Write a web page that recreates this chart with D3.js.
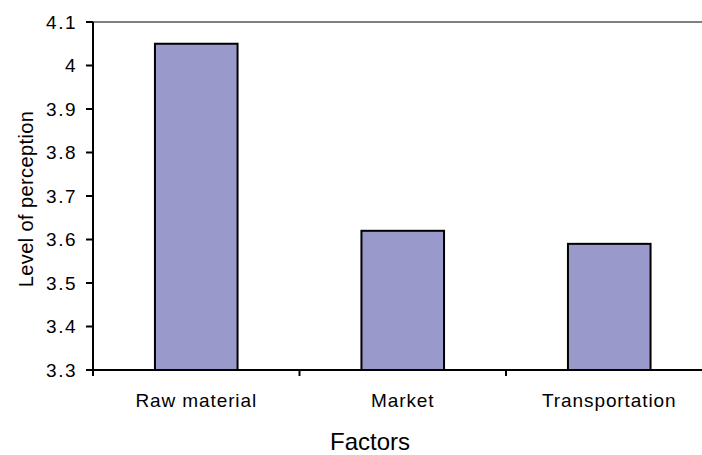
<!DOCTYPE html>
<html>
<head>
<meta charset="utf-8">
<script src="https://cdn.jsdelivr.net/npm/d3@7"></script>
<style>
  body { margin: 0; background: #fff; }
  text { font-family: "Liberation Sans", Arial, sans-serif; fill: #000; }
</style>
</head>
<body>
<div class="container"></div>
<script>
const w = 702;
const h = 455;

const categories = ["Raw material", "Market", "Transportation"];
const values = [4.05, 3.62, 3.59];
const yTicks = [3.3, 3.4, 3.5, 3.6, 3.7, 3.8, 3.9, 4.0, 4.1];

const margin = { top: 22, left: 93, bottom: 85 };
const plotBottom = h - margin.bottom;

const svg = d3.select('.container').append('svg')
    .attr('width', w)
    .attr('height', h);

const x = d3.scaleBand()
    .domain(categories)
    .range([margin.left, margin.left + 619.5])
    .paddingInner(0.6)
    .paddingOuter(0.3);

const y = d3.scaleLinear()
    .domain([3.3, 4.1])
    .range([plotBottom, margin.top]);

// top border of plot area
svg.append('line')
    .attr('x1', margin.left)
    .attr('x2', w)
    .attr('y1', y(4.1))
    .attr('y2', y(4.1))
    .attr('stroke', '#808080')
    .attr('stroke-width', 2);

// bars
svg.selectAll('rect.bar')
    .data(categories)
    .enter().append('rect')
    .attr('class', 'bar')
    .attr('x', d => x(d))
    .attr('width', x.bandwidth())
    .attr('y', (d, i) => y(values[i]))
    .attr('height', (d, i) => y(3.3) - y(values[i]))
    .attr('fill', '#9999cc')
    .attr('stroke', '#000')
    .attr('stroke-width', 2);

// y axis
const yAxis = svg.append('g');
yAxis.append('line')
    .attr('x1', margin.left).attr('x2', margin.left)
    .attr('y1', y(4.1)).attr('y2', y(3.3))
    .attr('stroke', '#000').attr('stroke-width', 2);

yAxis.selectAll('line.tick')
    .data(yTicks)
    .enter().append('line')
    .attr('class', 'tick')
    .attr('x1', margin.left - 7).attr('x2', margin.left)
    .attr('y1', d => y(d)).attr('y2', d => y(d))
    .attr('stroke', '#000').attr('stroke-width', 2);

yAxis.selectAll('text')
    .data(yTicks)
    .enter().append('text')
    .attr('x', margin.left - 16)
    .attr('y', d => y(d))
    .attr('dy', '0.36em')
    .attr('text-anchor', 'end')
    .style('font-size', '19px')
    .style('letter-spacing', '1.5px')
    .text(d3.format('~g'));

// x axis
const step = x.step();
svg.append('line')
    .attr('x1', margin.left).attr('x2', w)
    .attr('y1', plotBottom).attr('y2', plotBottom)
    .attr('stroke', '#000').attr('stroke-width', 2);

svg.selectAll('line.xtick')
    .data(d3.range(categories.length + 1))
    .enter().append('line')
    .attr('class', 'xtick')
    .attr('x1', i => margin.left + i * step)
    .attr('x2', i => margin.left + i * step)
    .attr('y1', plotBottom).attr('y2', plotBottom + 6)
    .attr('stroke', '#000').attr('stroke-width', 2);

svg.selectAll('text.cat')
    .data(categories)
    .enter().append('text')
    .attr('class', 'cat')
    .attr('x', d => x(d) + x.bandwidth() / 2)
    .attr('y', 407)
    .attr('text-anchor', 'middle')
    .style('font-size', '19px')
    .style('letter-spacing', '0.9px')
    .text(d => d);

// axis titles
svg.append('text')
    .attr('x', 370)
    .attr('y', 450)
    .attr('text-anchor', 'middle')
    .style('font-size', '24px')
    .text('Factors');

svg.append('text')
    .attr('transform', 'translate(33,199) rotate(-90)')
    .attr('text-anchor', 'middle')
    .style('font-size', '20px')
    .style('letter-spacing', '0.4px')
    .text('Level of perception');
</script>
</body>
</html>
